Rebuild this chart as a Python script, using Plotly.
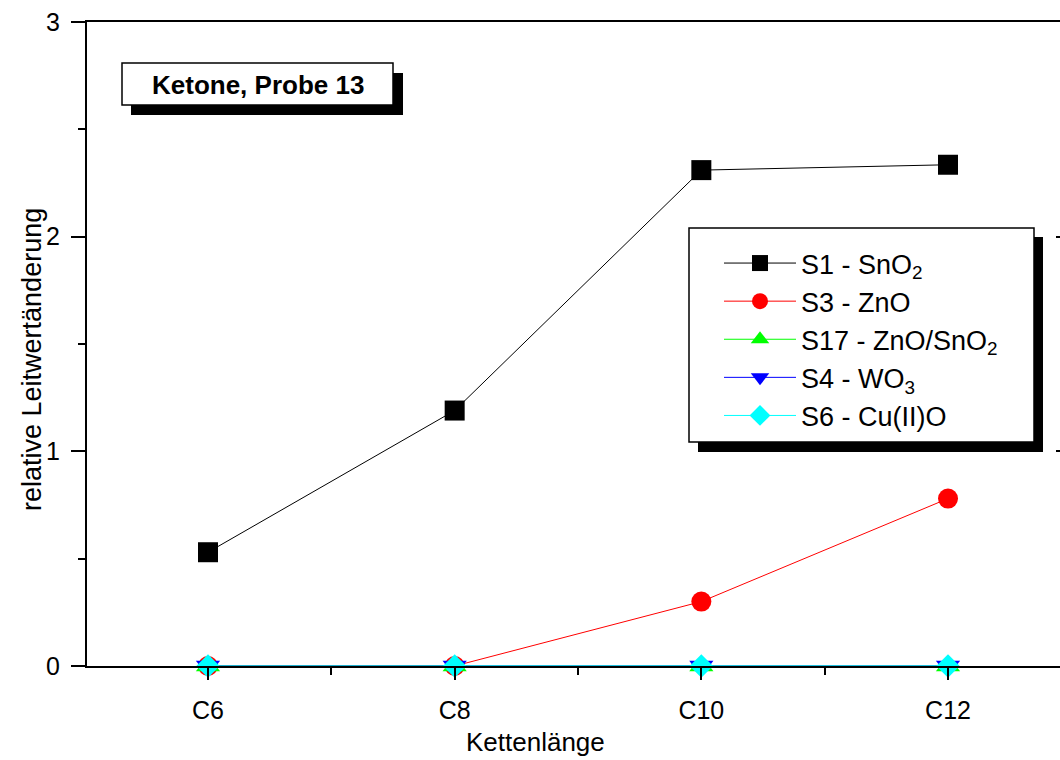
import plotly.graph_objects as go

# ---- data ----
categories = ["C6", "C8", "C10", "C12"]
s1_sno2 = [0.53, 1.19, 2.31, 2.335]
s3_zno = [0.0, 0.0, 0.30, 0.78]
s17_zno_sno2 = [0.0, 0.0, 0.0, 0.0]
s4_wo3 = [0.0, 0.0, 0.0, 0.0]
s6_cuo = [0.0, 0.0, 0.0, 0.0]
series_names = ["S1 - SnO<sub>2</sub>", "S3 - ZnO", "S17 - ZnO/SnO<sub>2</sub>",
                "S4 - WO<sub>3</sub>", "S6 - Cu(II)O"]
y_ticks = [0, 1, 2, 3]
x_title = "Kettenlänge"
y_title = "relative Leitwertänderung"
box_title = "Ketone, Probe 13"

FONT = "Arial, Liberation Sans, sans-serif"
W, H = 1060, 760
L, R, T, B = 87, 1060, 22, 666


def px(xp):
    return (xp - L) / (R - L)


def py(yp):
    return (B - yp) / (B - T)


xpos = list(range(len(categories)))
styles = [
    (s1_sno2, "#000000", "square", 20),
    (s3_zno, "#ff0000", "circle", 20),
    (s17_zno_sno2, "#00ff00", "triangle-up", 21),
    (s4_wo3, "#0000ff", "triangle-down", 21),
    (s6_cuo, "#00ffff", "diamond", 18),
]

fig = go.Figure()
for i, (vals, col, sym, sz) in enumerate(styles):
    fig.add_trace(go.Scatter(
        x=xpos, y=vals, name=series_names[i], mode="lines+markers",
        line=dict(color=col, width=1),
        marker=dict(symbol=sym, size=sz, color=col, line=dict(width=0)),
        legendgroup=f"g{i}", cliponaxis=False,
    ))

# invisible trace for right-side inner ticks
fig.add_trace(go.Scatter(x=[0], y=[0], yaxis="y2", showlegend=False,
                         mode="markers", marker=dict(opacity=0), hoverinfo="skip"))

shapes = []
# title box with shadow
shapes.append(dict(type="rect", xref="paper", yref="paper",
                   x0=px(131), x1=px(403), y0=py(115), y1=py(73),
                   fillcolor="black", line=dict(width=0), layer="above"))
shapes.append(dict(type="rect", xref="paper", yref="paper",
                   x0=px(122), x1=px(393), y0=py(105), y1=py(63),
                   fillcolor="white", line=dict(color="black", width=1.5), layer="above"))
# legend box with shadow
shapes.append(dict(type="rect", xref="paper", yref="paper",
                   x0=px(698), x1=px(1043), y0=py(452), y1=py(237),
                   fillcolor="black", line=dict(width=0), layer="above"))
shapes.append(dict(type="rect", xref="paper", yref="paper",
                   x0=px(689), x1=px(1034), y0=py(442), y1=py(228),
                   fillcolor="white", line=dict(color="black", width=1.5), layer="above"))

annotations = [
    dict(text=f"<b>{box_title}</b>", xref="paper", yref="paper",
         x=px(257.5), y=py(85), showarrow=False,
         font=dict(family=FONT, size=26, color="black"),
         xanchor="center", yanchor="middle"),
    dict(text=x_title, xref="paper", yref="paper",
         x=px(535), y=py(742), showarrow=False,
         font=dict(family=FONT, size=26, color="black"),
         xanchor="center", yanchor="middle"),
    dict(text=y_title, xref="paper", yref="paper",
         x=px(32), y=py(360), showarrow=False, textangle=-90,
         font=dict(family=FONT, size=27, color="black"),
         xanchor="center", yanchor="middle"),
]

fig.update_layout(
    width=W, height=H,
    margin=dict(l=L, r=W - R, t=T, b=H - B, pad=0),
    paper_bgcolor="white", plot_bgcolor="white",
    font=dict(family=FONT, size=24, color="black"),
    showlegend=True,
    legend=dict(
        x=px(719), y=py(239), xanchor="left", yanchor="top",
        bgcolor="rgba(0,0,0,0)", borderwidth=0,
        font=dict(family=FONT, size=27, color="black"),
        itemwidth=72, tracegroupgap=3,
        traceorder="normal",
    ),
    xaxis=dict(
        range=[-0.4905, 3.454],
        tickmode="array", tickvals=xpos, ticktext=categories,
        ticks="outside", ticklen=12, tickwidth=2, tickcolor="black",
        ticklabelstandoff=9,
        showline=True, linewidth=2, linecolor="black", mirror=True,
        showgrid=False, zeroline=False, layer="above traces",
        minor=dict(tickmode="array", tickvals=[0.5, 1.5, 2.5], ticks="outside",
                   ticklen=7, tickwidth=2, tickcolor="black", showgrid=False),
        tickfont=dict(family=FONT, size=25, color="black"),
    ),
    yaxis=dict(
        range=[0, 3],
        tickmode="array", tickvals=y_ticks,
        ticks="outside", ticklen=14, tickwidth=2, tickcolor="black",
        ticklabelstandoff=6,
        showline=True, linewidth=2, linecolor="black",
        showgrid=False, zeroline=False, layer="above traces",
        minor=dict(tickmode="array", tickvals=[0.5, 1.5, 2.5], ticks="outside",
                   ticklen=7, tickwidth=2, tickcolor="black", showgrid=False),
        tickfont=dict(family=FONT, size=25, color="black"),
    ),
    yaxis2=dict(
        range=[0, 3], overlaying="y", side="right",
        tickmode="array", tickvals=y_ticks, showticklabels=False,
        ticks="inside", ticklen=4, tickwidth=2, tickcolor="black",
        showline=False, showgrid=False, zeroline=False,
    ),
    shapes=shapes,
    annotations=annotations,
)

fig.write_html(
    "out.html",
    config={"displayModeBar": False},
    post_script="document.body.style.margin='0px';"
                "document.documentElement.style.overflow='hidden';",
)
